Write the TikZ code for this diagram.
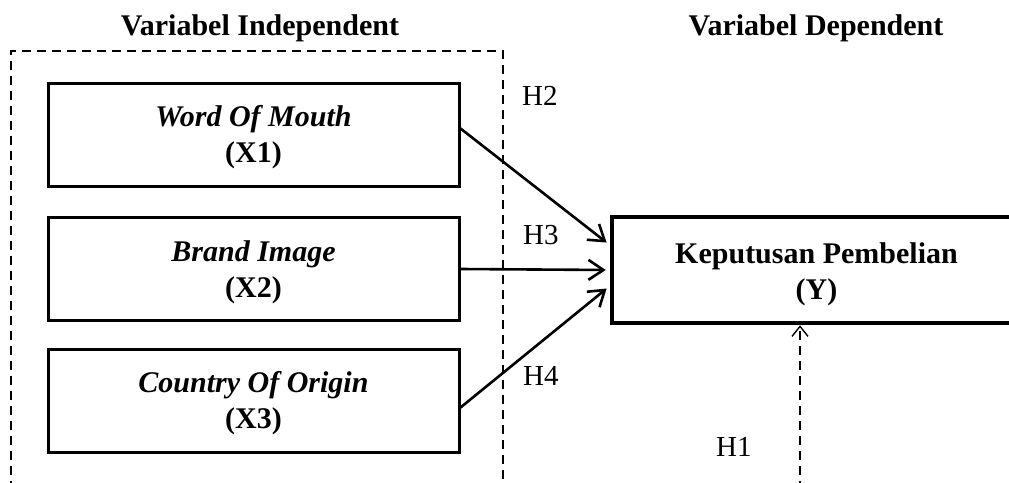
\documentclass[tikz,border=0pt]{standalone}
\usepackage{fontspec}
\setmainfont{Liberation Serif}
\usetikzlibrary{arrows.meta}
\newcommand{\lowerstrut}[1]{\rule{0pt}{#1}}
\begin{document}
\begin{tikzpicture}[x=1pt,y=1pt,
  xbox/.style={draw,line width=3pt,minimum width=411pt,minimum height=103pt,inner sep=0pt,align=center,font=\fontsize{30}{36}\selectfont},
  ybox/.style={draw,line width=4.5pt,minimum width=409pt,minimum height=106pt,inner sep=0pt,align=center,font=\fontsize{30}{36}\selectfont\bfseries},
  ttl/.style={anchor=base,inner sep=0pt,font=\fontsize{30}{36}\selectfont\bfseries},
  hlab/.style={anchor=base west,inner sep=0pt,font=\fontsize{29}{34}\selectfont},
  frame/.style={dash pattern=on 9pt off 6pt,line width=1.3pt},
  conn/.style={line width=2.6pt,-{Straight Barb[length=15pt,width=20pt,line width=2.6pt]},shorten >=4pt},
  dconn/.style={line width=1.3pt,dash pattern=on 9pt off 6pt,-{Straight Barb[length=10pt,width=16pt,line width=1.4pt]}}
]
\useasboundingbox (0,0) rectangle (1009,-482);
% titles
\node[ttl] (tind) at (260,-35) {Variabel Independent};
\node[ttl] (tdep) at (816,-35) {Variabel Dependent};
% dashed frame
\coordinate (fa) at (11,-490);
\coordinate (fb) at (11,-51);
\coordinate (fc) at (503,-51);
\coordinate (fd) at (503,-490);
\draw[frame] (fa) -- (fb) -- (fc) -- (fd);
% boxes
\node[xbox] (x1) at (253.5,-134.5) {\lowerstrut{27pt}\textbf{\textit{Word Of Mouth}}\\\textbf{(X1)}};
\node[xbox] (x2) at (253.5,-269) {\lowerstrut{27pt}\textbf{\textit{Brand Image}}\\\textbf{(X2)}};
\node[xbox] (x3) at (253.5,-400.5) {\lowerstrut{27pt}\textbf{\textit{Country Of Origin}}\\\textbf{(X3)}};
\node[ybox] (y) at (816.5,-270) {\lowerstrut{30pt}Keputusan Pembelian\\(Y)};
% connectors
\draw[conn] ([yshift=6pt]x1.east) -- ([yshift=25pt]y.west);
\draw[conn] (x2.east) -- (y.west);
\draw[conn] ([yshift=-7pt]x3.east) -- ([yshift=-16pt]y.west);
\coordinate (h1s) at (800,-490);
\draw[dconn] (h1s) -- (h1s |- y.south);
% labels
\node[hlab] (h2) at (522,-105) {H2};
\node[hlab] (h3) at (523,-244) {H3};
\node[hlab] (h4) at (523,-385) {H4};
\node[hlab] (h1) at (716,-456) {H1};
\end{tikzpicture}
\end{document}
